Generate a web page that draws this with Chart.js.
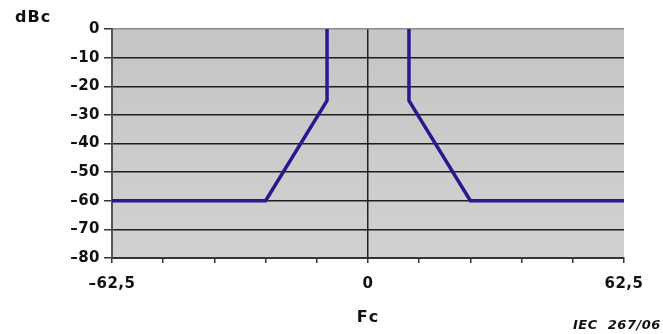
<!DOCTYPE html>
<html>
<head>
<meta charset="utf-8">
<script src="https://cdn.jsdelivr.net/npm/chart.js@4.4.1/dist/chart.umd.min.js"></script>
<style>
html,body{margin:0;padding:0;background:#fff;}
#wrap{position:relative;width:663px;height:334px;}
</style>
</head>
<body>
<div id="wrap"><canvas id="c" width="663" height="334"></canvas></div>
<script>
// Data
const leftFreq = [-62.5, -25, -10, -10];
const leftLevel = [-60, -60, -25, 0];
const rightFreq = [10, 10, 25, 62.5];
const rightLevel = [0, -25, -60, -60];
const xLabeled = [-62.5, 0, 62.5];
const yTicks = [0, -10, -20, -30, -40, -50, -60, -70, -80];
const yUnit = 'dBc';
const xName = 'Fc';
const note = 'IEC  267/06';

const toPts = (xs, ys) => xs.map((x, i) => ({x: x, y: ys[i]}));
const fmt = v => (v < 0 ? '\u2013' : '') + String(Math.abs(v)).replace('.', ',');
const FAM = '"DejaVu Sans", "Liberation Sans", Arial, sans-serif';

const lineStyle = {borderColor: '#251b8f', borderWidth: 3.5, pointRadius: 0, fill: false, tension: 0, borderJoinStyle: 'round', borderCapStyle: 'butt'};

const bgPlugin = {
  id: 'bg',
  beforeDraw(chart) {
    const {ctx, chartArea: a} = chart;
    ctx.save();
    const g = ctx.createLinearGradient(0, a.top, 0, a.bottom);
    g.addColorStop(0, '#c5c5c5');
    g.addColorStop(1, '#d1d1d1');
    ctx.fillStyle = g;
    ctx.fillRect(a.left, a.top, a.right - a.left, a.bottom - a.top);
    ctx.restore();
    ctx.letterSpacing = '0.5px';
  }
};
const textPlugin = {
  id: 'texts',
  afterDraw(chart) {
    const ctx = chart.ctx;
    ctx.save();
    ctx.fillStyle = '#111';
    ctx.textBaseline = 'middle';
    ctx.letterSpacing = '1px';
    ctx.font = 'bold 16px ' + FAM;
    ctx.textAlign = 'left';
    ctx.fillText(yUnit, 15, 18);
    ctx.textAlign = 'center';
    ctx.fillText(xName, 368, 318);
    ctx.font = 'italic bold 13px ' + FAM;
    ctx.letterSpacing = '0.5px';
    ctx.textAlign = 'left';
    ctx.fillText(note, 573, 326);
    ctx.restore();
  }
};

new Chart(document.getElementById('c'), {
  type: 'line',
  data: {
    datasets: [
      Object.assign({data: toPts(leftFreq, leftLevel)}, lineStyle),
      Object.assign({data: toPts(rightFreq, rightLevel)}, lineStyle)
    ]
  },
  options: {
    responsive: false,
    animation: false,
    devicePixelRatio: 1,
    layout: {padding: {top: 29, right: 39, left: 0, bottom: 0}},
    plugins: {legend: {display: false}, tooltip: {enabled: false}},
    scales: {
      x: {
        type: 'linear', min: -62.5, max: 62.5,
        afterBuildTicks: s => { s.ticks = []; for (let v = -62.5; v <= 62.5; v += 12.5) s.ticks.push({value: v}); },
        afterFit: s => { s.height = 76; },
        ticks: {
          autoSkip: false, maxRotation: 0, padding: 12, color: '#111',
          font: {family: FAM, size: 15, weight: 'bold'},
          callback: v => xLabeled.includes(v) ? fmt(v) : ''
        },
        grid: {
          color: c => (c.tick && c.tick.value === 0) ? '#222' : 'rgba(0,0,0,0)',
          lineWidth: 1.5, tickLength: 5, tickColor: '#333'
        },
        border: {color: '#333', width: 2}
      },
      y: {
        type: 'linear', min: -80, max: 0,
        afterBuildTicks: s => { s.ticks = yTicks.map(v => ({value: v})); },
        afterFit: s => { s.width = 112; },
        ticks: {
          autoSkip: false, padding: 4, color: '#111',
          font: {family: FAM, size: 15, weight: 'bold'},
          callback: v => fmt(v)
        },
        grid: {
          color: c => (c.tick && c.tick.value === 0) ? '#8a8a8a' : '#1e1e1e',
          lineWidth: 1.5, tickLength: 8, tickColor: '#333'
        },
        border: {color: '#555', width: 2}
      }
    }
  },
  plugins: [bgPlugin, textPlugin]
});
</script>
</body>
</html>
